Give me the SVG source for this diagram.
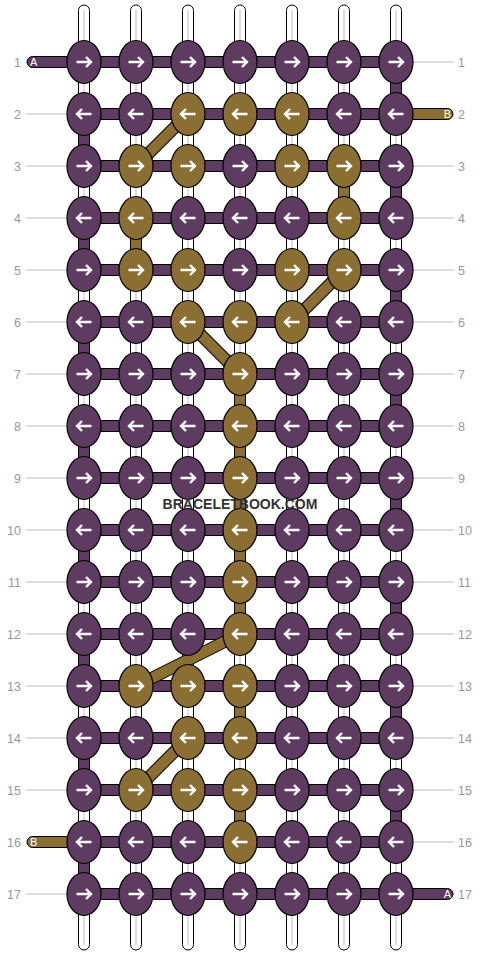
<svg xmlns="http://www.w3.org/2000/svg" xmlns:xlink="http://www.w3.org/1999/xlink" width="480" height="956" viewBox="0 0 480 956">
<style>
.bg{fill:#fff}
.ws{fill:#fff;stroke:#000;stroke-width:1}
.wc{stroke:#c8c8c8;stroke-width:1.2}
.ph{fill:#5E3B61;stroke:#000;stroke-width:1}
.gh{fill:#8B6E31;stroke:#000;stroke-width:1}
.dk{stroke:#000;stroke-width:12.5;stroke-linecap:butt}
.dg{stroke:#8B6E31;stroke-width:10.5;stroke-linecap:butt}
.p ellipse{fill:#5E3B61;stroke:#000;stroke-width:1.2}
.g ellipse{fill:#8B6E31;stroke:#000;stroke-width:1.2}
.arr{fill:none;stroke:#fff;stroke-width:2.4;stroke-linecap:butt;stroke-linejoin:miter}
.lb{font-family:"Liberation Sans",Arial,sans-serif;font-size:12.5px;fill:#999}
.gl{stroke:#bbb;stroke-width:1}
.tl{font-family:"Liberation Sans",Arial,sans-serif;font-size:11px;fill:#fff}
.wm{font-family:"Liberation Sans",Arial,sans-serif;font-size:14px;font-weight:bold;fill:#333}
</style>
<defs>
<path id="ar" class="arr" d="M-7.5,0 H7 M2,-5 L7,0 L2,5"/>
<path id="al" class="arr" d="M7.5,0 H-7 M-2,-5 L-7,0 L-2,5"/>
</defs>
<rect class="bg" x="0" y="0" width="480" height="956"/>
<g id="labels">
<g class="gl">
<line x1="26" y1="114" x2="67" y2="114"/><line x1="26" y1="166" x2="67" y2="166"/><line x1="26" y1="218" x2="67" y2="218"/><line x1="26" y1="270" x2="67" y2="270"/><line x1="26" y1="322" x2="67" y2="322"/><line x1="26" y1="374" x2="67" y2="374"/><line x1="26" y1="426" x2="67" y2="426"/><line x1="26" y1="478" x2="67" y2="478"/><line x1="26" y1="530" x2="67" y2="530"/><line x1="26" y1="582" x2="67" y2="582"/><line x1="26" y1="634" x2="67" y2="634"/><line x1="26" y1="686" x2="67" y2="686"/><line x1="26" y1="738" x2="67" y2="738"/><line x1="26" y1="790" x2="67" y2="790"/><line x1="26" y1="894" x2="67" y2="894"/>
<line x1="413" y1="62" x2="454" y2="62"/><line x1="413" y1="166" x2="454" y2="166"/><line x1="413" y1="218" x2="454" y2="218"/><line x1="413" y1="270" x2="454" y2="270"/><line x1="413" y1="322" x2="454" y2="322"/><line x1="413" y1="374" x2="454" y2="374"/><line x1="413" y1="426" x2="454" y2="426"/><line x1="413" y1="478" x2="454" y2="478"/><line x1="413" y1="530" x2="454" y2="530"/><line x1="413" y1="582" x2="454" y2="582"/><line x1="413" y1="634" x2="454" y2="634"/><line x1="413" y1="686" x2="454" y2="686"/><line x1="413" y1="738" x2="454" y2="738"/><line x1="413" y1="790" x2="454" y2="790"/><line x1="413" y1="842" x2="454" y2="842"/>
</g>
<g class="lb" text-anchor="end">
<text x="21" y="66.5">1</text><text x="21" y="118.5">2</text><text x="21" y="170.5">3</text><text x="21" y="222.5">4</text><text x="21" y="274.5">5</text><text x="21" y="326.5">6</text><text x="21" y="378.5">7</text><text x="21" y="430.5">8</text><text x="21" y="482.5">9</text><text x="21" y="534.5">10</text><text x="21" y="586.5">11</text><text x="21" y="638.5">12</text><text x="21" y="690.5">13</text><text x="21" y="742.5">14</text><text x="21" y="794.5">15</text><text x="21" y="846.5">16</text><text x="21" y="898.5">17</text>
</g>
<g class="lb" text-anchor="start">
<text x="458" y="66.5">1</text><text x="458" y="118.5">2</text><text x="458" y="170.5">3</text><text x="458" y="222.5">4</text><text x="458" y="274.5">5</text><text x="458" y="326.5">6</text><text x="458" y="378.5">7</text><text x="458" y="430.5">8</text><text x="458" y="482.5">9</text><text x="458" y="534.5">10</text><text x="458" y="586.5">11</text><text x="458" y="638.5">12</text><text x="458" y="690.5">13</text><text x="458" y="742.5">14</text><text x="458" y="794.5">15</text><text x="458" y="846.5">16</text><text x="458" y="898.5">17</text>
</g>
</g>
<g id="connectors">
<g id="vertical-strands">
<rect class="ws" x="78.5" y="5" width="11" height="945" rx="5.5"/><rect class="ws" x="130.5" y="5" width="11" height="945" rx="5.5"/><rect class="ws" x="182.5" y="5" width="11" height="945" rx="5.5"/><rect class="ws" x="234.5" y="5" width="11" height="945" rx="5.5"/><rect class="ws" x="286.5" y="5" width="11" height="945" rx="5.5"/><rect class="ws" x="338.5" y="5" width="11" height="945" rx="5.5"/><rect class="ws" x="390.5" y="5" width="11" height="945" rx="5.5"/>
<g class="wc"><line x1="84" y1="10" x2="84" y2="945"/><line x1="136" y1="10" x2="136" y2="945"/><line x1="188" y1="10" x2="188" y2="945"/><line x1="240" y1="10" x2="240" y2="945"/><line x1="292" y1="10" x2="292" y2="945"/><line x1="344" y1="10" x2="344" y2="945"/><line x1="396" y1="10" x2="396" y2="945"/></g>
</g>
<g id="rows">
<rect class="ph" x="27" y="56.5" width="369" height="11" rx="5.5"/>
<rect class="gh" x="380" y="108.5" width="73" height="11" rx="5.5"/>
<rect class="ph" x="84" y="108.5" width="312" height="11"/>
<rect class="ph" x="84" y="160.5" width="312" height="11"/>
<rect class="ph" x="84" y="212.5" width="312" height="11"/>
<rect class="ph" x="84" y="264.5" width="312" height="11"/>
<rect class="ph" x="84" y="316.5" width="312" height="11"/>
<rect class="ph" x="84" y="368.5" width="312" height="11"/>
<rect class="ph" x="84" y="420.5" width="312" height="11"/>
<rect class="ph" x="84" y="472.5" width="312" height="11"/>
<rect class="ph" x="84" y="524.5" width="312" height="11"/>
<rect class="ph" x="84" y="576.5" width="312" height="11"/>
<rect class="ph" x="84" y="628.5" width="312" height="11"/>
<rect class="ph" x="84" y="680.5" width="312" height="11"/>
<rect class="ph" x="84" y="732.5" width="312" height="11"/>
<rect class="ph" x="84" y="784.5" width="312" height="11"/>
<rect class="gh" x="27" y="836.5" width="73" height="11" rx="5.5"/>
<rect class="ph" x="84" y="836.5" width="312" height="11"/>
<rect class="ph" x="84" y="888.5" width="369" height="11" rx="5.5"/>
</g>
<g id="vertical-links">
<rect class="ph" x="390.5" y="62" width="11" height="52"/>
<rect class="ph" x="78.5" y="114" width="11" height="52"/>
<rect class="gh" x="338.5" y="166" width="11" height="52"/>
<rect class="ph" x="390.5" y="166" width="11" height="52"/>
<rect class="ph" x="78.5" y="218" width="11" height="52"/>
<rect class="gh" x="130.5" y="218" width="11" height="52"/>
<rect class="ph" x="390.5" y="270" width="11" height="52"/>
<rect class="ph" x="78.5" y="322" width="11" height="52"/>
<rect class="gh" x="234.5" y="374" width="11" height="52"/>
<rect class="ph" x="390.5" y="374" width="11" height="52"/>
<rect class="ph" x="78.5" y="426" width="11" height="52"/>
<rect class="gh" x="234.5" y="426" width="11" height="52"/>
<rect class="gh" x="234.5" y="478" width="11" height="52"/>
<rect class="ph" x="390.5" y="478" width="11" height="52"/>
<rect class="ph" x="78.5" y="530" width="11" height="52"/>
<rect class="gh" x="234.5" y="530" width="11" height="52"/>
<rect class="gh" x="234.5" y="582" width="11" height="52"/>
<rect class="ph" x="390.5" y="582" width="11" height="52"/>
<rect class="ph" x="78.5" y="634" width="11" height="52"/>
<rect class="gh" x="234.5" y="686" width="11" height="52"/>
<rect class="ph" x="390.5" y="686" width="11" height="52"/>
<rect class="ph" x="78.5" y="738" width="11" height="52"/>
<rect class="gh" x="234.5" y="790" width="11" height="52"/>
<rect class="ph" x="390.5" y="790" width="11" height="52"/>
<rect class="ph" x="78.5" y="842" width="11" height="52"/>
</g>
<g id="diagonals">
<g class="dk"><line x1="188" y1="114" x2="136" y2="166"/><line x1="344" y1="270" x2="292" y2="322"/><line x1="188" y1="322" x2="240" y2="374"/><line x1="240" y1="634" x2="136" y2="686"/><line x1="188" y1="738" x2="136" y2="790"/></g>
<g class="dg"><line x1="188" y1="114" x2="136" y2="166"/><line x1="344" y1="270" x2="292" y2="322"/><line x1="188" y1="322" x2="240" y2="374"/><line x1="240" y1="634" x2="136" y2="686"/><line x1="188" y1="738" x2="136" y2="790"/></g>
</g>
<g id="tail-labels" class="tl">
<text x="30" y="66">A</text>
<text x="451" y="118" text-anchor="end">B</text>
<text x="30" y="846">B</text>
<text x="451" y="898" text-anchor="end">A</text>
</g>
</g>
<g id="nodes">
<g id="n1-1" class="p"><ellipse cx="84" cy="62" rx="17" ry="21.5"/><use href="#ar" x="84" y="62"/></g>
<g id="n1-2" class="p"><ellipse cx="136" cy="62" rx="17" ry="21.5"/><use href="#ar" x="136" y="62"/></g>
<g id="n1-3" class="p"><ellipse cx="188" cy="62" rx="17" ry="21.5"/><use href="#ar" x="188" y="62"/></g>
<g id="n1-4" class="p"><ellipse cx="240" cy="62" rx="17" ry="21.5"/><use href="#ar" x="240" y="62"/></g>
<g id="n1-5" class="p"><ellipse cx="292" cy="62" rx="17" ry="21.5"/><use href="#ar" x="292" y="62"/></g>
<g id="n1-6" class="p"><ellipse cx="344" cy="62" rx="17" ry="21.5"/><use href="#ar" x="344" y="62"/></g>
<g id="n1-7" class="p"><ellipse cx="396" cy="62" rx="17" ry="21.5"/><use href="#ar" x="396" y="62"/></g>
<g id="n2-1" class="p"><ellipse cx="84" cy="114" rx="17" ry="21.5"/><use href="#al" x="84" y="114"/></g>
<g id="n2-2" class="p"><ellipse cx="136" cy="114" rx="17" ry="21.5"/><use href="#al" x="136" y="114"/></g>
<g id="n2-3" class="g"><ellipse cx="188" cy="114" rx="17" ry="21.5"/><use href="#al" x="188" y="114"/></g>
<g id="n2-4" class="g"><ellipse cx="240" cy="114" rx="17" ry="21.5"/><use href="#al" x="240" y="114"/></g>
<g id="n2-5" class="g"><ellipse cx="292" cy="114" rx="17" ry="21.5"/><use href="#al" x="292" y="114"/></g>
<g id="n2-6" class="p"><ellipse cx="344" cy="114" rx="17" ry="21.5"/><use href="#al" x="344" y="114"/></g>
<g id="n2-7" class="p"><ellipse cx="396" cy="114" rx="17" ry="21.5"/><use href="#al" x="396" y="114"/></g>
<g id="n3-1" class="p"><ellipse cx="84" cy="166" rx="17" ry="21.5"/><use href="#ar" x="84" y="166"/></g>
<g id="n3-2" class="g"><ellipse cx="136" cy="166" rx="17" ry="21.5"/><use href="#ar" x="136" y="166"/></g>
<g id="n3-3" class="g"><ellipse cx="188" cy="166" rx="17" ry="21.5"/><use href="#ar" x="188" y="166"/></g>
<g id="n3-4" class="p"><ellipse cx="240" cy="166" rx="17" ry="21.5"/><use href="#ar" x="240" y="166"/></g>
<g id="n3-5" class="g"><ellipse cx="292" cy="166" rx="17" ry="21.5"/><use href="#ar" x="292" y="166"/></g>
<g id="n3-6" class="g"><ellipse cx="344" cy="166" rx="17" ry="21.5"/><use href="#ar" x="344" y="166"/></g>
<g id="n3-7" class="p"><ellipse cx="396" cy="166" rx="17" ry="21.5"/><use href="#ar" x="396" y="166"/></g>
<g id="n4-1" class="p"><ellipse cx="84" cy="218" rx="17" ry="21.5"/><use href="#al" x="84" y="218"/></g>
<g id="n4-2" class="g"><ellipse cx="136" cy="218" rx="17" ry="21.5"/><use href="#al" x="136" y="218"/></g>
<g id="n4-3" class="p"><ellipse cx="188" cy="218" rx="17" ry="21.5"/><use href="#al" x="188" y="218"/></g>
<g id="n4-4" class="p"><ellipse cx="240" cy="218" rx="17" ry="21.5"/><use href="#al" x="240" y="218"/></g>
<g id="n4-5" class="p"><ellipse cx="292" cy="218" rx="17" ry="21.5"/><use href="#al" x="292" y="218"/></g>
<g id="n4-6" class="g"><ellipse cx="344" cy="218" rx="17" ry="21.5"/><use href="#al" x="344" y="218"/></g>
<g id="n4-7" class="p"><ellipse cx="396" cy="218" rx="17" ry="21.5"/><use href="#al" x="396" y="218"/></g>
<g id="n5-1" class="p"><ellipse cx="84" cy="270" rx="17" ry="21.5"/><use href="#ar" x="84" y="270"/></g>
<g id="n5-2" class="g"><ellipse cx="136" cy="270" rx="17" ry="21.5"/><use href="#ar" x="136" y="270"/></g>
<g id="n5-3" class="g"><ellipse cx="188" cy="270" rx="17" ry="21.5"/><use href="#ar" x="188" y="270"/></g>
<g id="n5-4" class="p"><ellipse cx="240" cy="270" rx="17" ry="21.5"/><use href="#ar" x="240" y="270"/></g>
<g id="n5-5" class="g"><ellipse cx="292" cy="270" rx="17" ry="21.5"/><use href="#ar" x="292" y="270"/></g>
<g id="n5-6" class="g"><ellipse cx="344" cy="270" rx="17" ry="21.5"/><use href="#ar" x="344" y="270"/></g>
<g id="n5-7" class="p"><ellipse cx="396" cy="270" rx="17" ry="21.5"/><use href="#ar" x="396" y="270"/></g>
<g id="n6-1" class="p"><ellipse cx="84" cy="322" rx="17" ry="21.5"/><use href="#al" x="84" y="322"/></g>
<g id="n6-2" class="p"><ellipse cx="136" cy="322" rx="17" ry="21.5"/><use href="#al" x="136" y="322"/></g>
<g id="n6-3" class="g"><ellipse cx="188" cy="322" rx="17" ry="21.5"/><use href="#al" x="188" y="322"/></g>
<g id="n6-4" class="g"><ellipse cx="240" cy="322" rx="17" ry="21.5"/><use href="#al" x="240" y="322"/></g>
<g id="n6-5" class="g"><ellipse cx="292" cy="322" rx="17" ry="21.5"/><use href="#al" x="292" y="322"/></g>
<g id="n6-6" class="p"><ellipse cx="344" cy="322" rx="17" ry="21.5"/><use href="#al" x="344" y="322"/></g>
<g id="n6-7" class="p"><ellipse cx="396" cy="322" rx="17" ry="21.5"/><use href="#al" x="396" y="322"/></g>
<g id="n7-1" class="p"><ellipse cx="84" cy="374" rx="17" ry="21.5"/><use href="#ar" x="84" y="374"/></g>
<g id="n7-2" class="p"><ellipse cx="136" cy="374" rx="17" ry="21.5"/><use href="#ar" x="136" y="374"/></g>
<g id="n7-3" class="p"><ellipse cx="188" cy="374" rx="17" ry="21.5"/><use href="#ar" x="188" y="374"/></g>
<g id="n7-4" class="g"><ellipse cx="240" cy="374" rx="17" ry="21.5"/><use href="#ar" x="240" y="374"/></g>
<g id="n7-5" class="p"><ellipse cx="292" cy="374" rx="17" ry="21.5"/><use href="#ar" x="292" y="374"/></g>
<g id="n7-6" class="p"><ellipse cx="344" cy="374" rx="17" ry="21.5"/><use href="#ar" x="344" y="374"/></g>
<g id="n7-7" class="p"><ellipse cx="396" cy="374" rx="17" ry="21.5"/><use href="#ar" x="396" y="374"/></g>
<g id="n8-1" class="p"><ellipse cx="84" cy="426" rx="17" ry="21.5"/><use href="#al" x="84" y="426"/></g>
<g id="n8-2" class="p"><ellipse cx="136" cy="426" rx="17" ry="21.5"/><use href="#al" x="136" y="426"/></g>
<g id="n8-3" class="p"><ellipse cx="188" cy="426" rx="17" ry="21.5"/><use href="#al" x="188" y="426"/></g>
<g id="n8-4" class="g"><ellipse cx="240" cy="426" rx="17" ry="21.5"/><use href="#al" x="240" y="426"/></g>
<g id="n8-5" class="p"><ellipse cx="292" cy="426" rx="17" ry="21.5"/><use href="#al" x="292" y="426"/></g>
<g id="n8-6" class="p"><ellipse cx="344" cy="426" rx="17" ry="21.5"/><use href="#al" x="344" y="426"/></g>
<g id="n8-7" class="p"><ellipse cx="396" cy="426" rx="17" ry="21.5"/><use href="#al" x="396" y="426"/></g>
<g id="n9-1" class="p"><ellipse cx="84" cy="478" rx="17" ry="21.5"/><use href="#ar" x="84" y="478"/></g>
<g id="n9-2" class="p"><ellipse cx="136" cy="478" rx="17" ry="21.5"/><use href="#ar" x="136" y="478"/></g>
<g id="n9-3" class="p"><ellipse cx="188" cy="478" rx="17" ry="21.5"/><use href="#ar" x="188" y="478"/></g>
<g id="n9-4" class="g"><ellipse cx="240" cy="478" rx="17" ry="21.5"/><use href="#ar" x="240" y="478"/></g>
<g id="n9-5" class="p"><ellipse cx="292" cy="478" rx="17" ry="21.5"/><use href="#ar" x="292" y="478"/></g>
<g id="n9-6" class="p"><ellipse cx="344" cy="478" rx="17" ry="21.5"/><use href="#ar" x="344" y="478"/></g>
<g id="n9-7" class="p"><ellipse cx="396" cy="478" rx="17" ry="21.5"/><use href="#ar" x="396" y="478"/></g>
<g id="n10-1" class="p"><ellipse cx="84" cy="530" rx="17" ry="21.5"/><use href="#al" x="84" y="530"/></g>
<g id="n10-2" class="p"><ellipse cx="136" cy="530" rx="17" ry="21.5"/><use href="#al" x="136" y="530"/></g>
<g id="n10-3" class="p"><ellipse cx="188" cy="530" rx="17" ry="21.5"/><use href="#al" x="188" y="530"/></g>
<g id="n10-4" class="g"><ellipse cx="240" cy="530" rx="17" ry="21.5"/><use href="#al" x="240" y="530"/></g>
<g id="n10-5" class="p"><ellipse cx="292" cy="530" rx="17" ry="21.5"/><use href="#al" x="292" y="530"/></g>
<g id="n10-6" class="p"><ellipse cx="344" cy="530" rx="17" ry="21.5"/><use href="#al" x="344" y="530"/></g>
<g id="n10-7" class="p"><ellipse cx="396" cy="530" rx="17" ry="21.5"/><use href="#al" x="396" y="530"/></g>
<g id="n11-1" class="p"><ellipse cx="84" cy="582" rx="17" ry="21.5"/><use href="#ar" x="84" y="582"/></g>
<g id="n11-2" class="p"><ellipse cx="136" cy="582" rx="17" ry="21.5"/><use href="#ar" x="136" y="582"/></g>
<g id="n11-3" class="p"><ellipse cx="188" cy="582" rx="17" ry="21.5"/><use href="#ar" x="188" y="582"/></g>
<g id="n11-4" class="g"><ellipse cx="240" cy="582" rx="17" ry="21.5"/><use href="#ar" x="240" y="582"/></g>
<g id="n11-5" class="p"><ellipse cx="292" cy="582" rx="17" ry="21.5"/><use href="#ar" x="292" y="582"/></g>
<g id="n11-6" class="p"><ellipse cx="344" cy="582" rx="17" ry="21.5"/><use href="#ar" x="344" y="582"/></g>
<g id="n11-7" class="p"><ellipse cx="396" cy="582" rx="17" ry="21.5"/><use href="#ar" x="396" y="582"/></g>
<g id="n12-1" class="p"><ellipse cx="84" cy="634" rx="17" ry="21.5"/><use href="#al" x="84" y="634"/></g>
<g id="n12-2" class="p"><ellipse cx="136" cy="634" rx="17" ry="21.5"/><use href="#al" x="136" y="634"/></g>
<g id="n12-3" class="p"><ellipse cx="188" cy="634" rx="17" ry="21.5"/><use href="#al" x="188" y="634"/></g>
<g id="n12-4" class="g"><ellipse cx="240" cy="634" rx="17" ry="21.5"/><use href="#al" x="240" y="634"/></g>
<g id="n12-5" class="p"><ellipse cx="292" cy="634" rx="17" ry="21.5"/><use href="#al" x="292" y="634"/></g>
<g id="n12-6" class="p"><ellipse cx="344" cy="634" rx="17" ry="21.5"/><use href="#al" x="344" y="634"/></g>
<g id="n12-7" class="p"><ellipse cx="396" cy="634" rx="17" ry="21.5"/><use href="#al" x="396" y="634"/></g>
<g id="n13-1" class="p"><ellipse cx="84" cy="686" rx="17" ry="21.5"/><use href="#ar" x="84" y="686"/></g>
<g id="n13-2" class="g"><ellipse cx="136" cy="686" rx="17" ry="21.5"/><use href="#ar" x="136" y="686"/></g>
<g id="n13-3" class="g"><ellipse cx="188" cy="686" rx="17" ry="21.5"/><use href="#ar" x="188" y="686"/></g>
<g id="n13-4" class="g"><ellipse cx="240" cy="686" rx="17" ry="21.5"/><use href="#ar" x="240" y="686"/></g>
<g id="n13-5" class="p"><ellipse cx="292" cy="686" rx="17" ry="21.5"/><use href="#ar" x="292" y="686"/></g>
<g id="n13-6" class="p"><ellipse cx="344" cy="686" rx="17" ry="21.5"/><use href="#ar" x="344" y="686"/></g>
<g id="n13-7" class="p"><ellipse cx="396" cy="686" rx="17" ry="21.5"/><use href="#ar" x="396" y="686"/></g>
<g id="n14-1" class="p"><ellipse cx="84" cy="738" rx="17" ry="21.5"/><use href="#al" x="84" y="738"/></g>
<g id="n14-2" class="p"><ellipse cx="136" cy="738" rx="17" ry="21.5"/><use href="#al" x="136" y="738"/></g>
<g id="n14-3" class="g"><ellipse cx="188" cy="738" rx="17" ry="21.5"/><use href="#al" x="188" y="738"/></g>
<g id="n14-4" class="g"><ellipse cx="240" cy="738" rx="17" ry="21.5"/><use href="#al" x="240" y="738"/></g>
<g id="n14-5" class="p"><ellipse cx="292" cy="738" rx="17" ry="21.5"/><use href="#al" x="292" y="738"/></g>
<g id="n14-6" class="p"><ellipse cx="344" cy="738" rx="17" ry="21.5"/><use href="#al" x="344" y="738"/></g>
<g id="n14-7" class="p"><ellipse cx="396" cy="738" rx="17" ry="21.5"/><use href="#al" x="396" y="738"/></g>
<g id="n15-1" class="p"><ellipse cx="84" cy="790" rx="17" ry="21.5"/><use href="#ar" x="84" y="790"/></g>
<g id="n15-2" class="g"><ellipse cx="136" cy="790" rx="17" ry="21.5"/><use href="#ar" x="136" y="790"/></g>
<g id="n15-3" class="g"><ellipse cx="188" cy="790" rx="17" ry="21.5"/><use href="#ar" x="188" y="790"/></g>
<g id="n15-4" class="g"><ellipse cx="240" cy="790" rx="17" ry="21.5"/><use href="#ar" x="240" y="790"/></g>
<g id="n15-5" class="p"><ellipse cx="292" cy="790" rx="17" ry="21.5"/><use href="#ar" x="292" y="790"/></g>
<g id="n15-6" class="p"><ellipse cx="344" cy="790" rx="17" ry="21.5"/><use href="#ar" x="344" y="790"/></g>
<g id="n15-7" class="p"><ellipse cx="396" cy="790" rx="17" ry="21.5"/><use href="#ar" x="396" y="790"/></g>
<g id="n16-1" class="p"><ellipse cx="84" cy="842" rx="17" ry="21.5"/><use href="#al" x="84" y="842"/></g>
<g id="n16-2" class="p"><ellipse cx="136" cy="842" rx="17" ry="21.5"/><use href="#al" x="136" y="842"/></g>
<g id="n16-3" class="p"><ellipse cx="188" cy="842" rx="17" ry="21.5"/><use href="#al" x="188" y="842"/></g>
<g id="n16-4" class="g"><ellipse cx="240" cy="842" rx="17" ry="21.5"/><use href="#al" x="240" y="842"/></g>
<g id="n16-5" class="p"><ellipse cx="292" cy="842" rx="17" ry="21.5"/><use href="#al" x="292" y="842"/></g>
<g id="n16-6" class="p"><ellipse cx="344" cy="842" rx="17" ry="21.5"/><use href="#al" x="344" y="842"/></g>
<g id="n16-7" class="p"><ellipse cx="396" cy="842" rx="17" ry="21.5"/><use href="#al" x="396" y="842"/></g>
<g id="n17-1" class="p"><ellipse cx="84" cy="894" rx="17" ry="21.5"/><use href="#ar" x="84" y="894"/></g>
<g id="n17-2" class="p"><ellipse cx="136" cy="894" rx="17" ry="21.5"/><use href="#ar" x="136" y="894"/></g>
<g id="n17-3" class="p"><ellipse cx="188" cy="894" rx="17" ry="21.5"/><use href="#ar" x="188" y="894"/></g>
<g id="n17-4" class="p"><ellipse cx="240" cy="894" rx="17" ry="21.5"/><use href="#ar" x="240" y="894"/></g>
<g id="n17-5" class="p"><ellipse cx="292" cy="894" rx="17" ry="21.5"/><use href="#ar" x="292" y="894"/></g>
<g id="n17-6" class="p"><ellipse cx="344" cy="894" rx="17" ry="21.5"/><use href="#ar" x="344" y="894"/></g>
<g id="n17-7" class="p"><ellipse cx="396" cy="894" rx="17" ry="21.5"/><use href="#ar" x="396" y="894"/></g>
</g>
<text class="wm" x="240" y="509" text-anchor="middle">BRACELETBOOK.COM</text>
</svg>
